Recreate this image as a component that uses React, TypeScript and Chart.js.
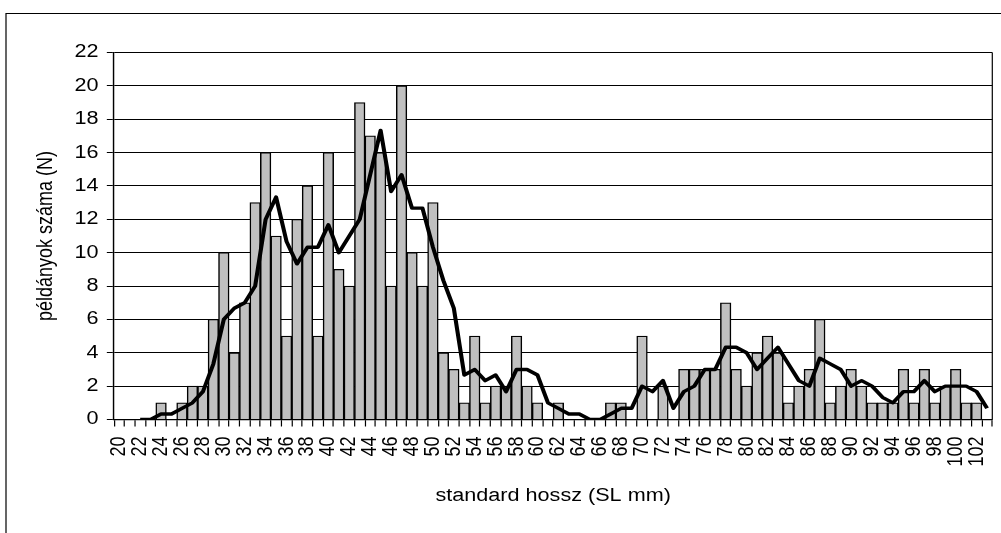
import React, { useEffect, useRef } from 'react';
import { Chart, registerables } from 'chart.js';

Chart.register(...registerables);

// Length classes (standard length, mm)
const categories: string[] = [
  '20', '21', '22', '23', '24', '25', '26', '27', '28', '29',
  '30', '31', '32', '33', '34', '35', '36', '37', '38', '39',
  '40', '41', '42', '43', '44', '45', '46', '47', '48', '49',
  '50', '51', '52', '53', '54', '55', '56', '57', '58', '59',
  '60', '61', '62', '63', '64', '65', '66', '67', '68', '69',
  '70', '71', '72', '73', '74', '75', '76', '77', '78', '79',
  '80', '81', '82', '83', '84', '85', '86', '87', '88', '89',
  '90', '91', '92', '93', '94', '95', '96', '97', '98', '99',
  '100', '101', '102', '103',
];

// Number of specimens per length class
const counts: number[] = [
  0, 0, 0, 0, 1, 0, 1, 2, 2, 6,
  10, 4, 7, 13, 16, 11, 5, 12, 14, 5,
  16, 9, 8, 19, 17, 16, 8, 20, 10, 8,
  13, 4, 3, 1, 5, 1, 2, 2, 5, 2,
  1, 0, 1, 0, 0, 0, 0, 1, 1, 0,
  5, 0, 2, 0, 3, 3, 3, 3, 7, 3,
  2, 4, 5, 4, 1, 2, 3, 6, 1, 2,
  3, 2, 1, 1, 1, 3, 1, 3, 1, 2,
  3, 1, 1, 0,
];

// Moving-average trend line (starts at class 22)
const movingAverage: (number | null)[] = [
  null, null, 0, 0, 0.33, 0.33, 0.67, 1, 1.67, 3.33,
  6, 6.67, 7, 8, 12, 13.33, 10.67, 9.33, 10.33, 10.33,
  11.67, 10, 11, 12, 14.67, 17.33, 13.67, 14.67, 12.67, 12.67,
  10.33, 8.33, 6.67, 2.67, 3, 2.33, 2.67, 1.67, 3, 3,
  2.67, 1, 0.67, 0.33, 0.33, 0, 0, 0.33, 0.67, 0.67,
  2, 1.67, 2.33, 0.67, 1.67, 2, 3, 3, 4.33, 4.33,
  4, 3, 3.67, 4.33, 3.33, 2.33, 2, 3.67, 3.33, 3,
  2, 2.33, 2, 1.33, 1, 1.67, 1.67, 2.33, 1.67, 2,
  2, 2, 1.67, 0.67,
];

const yMin = 0;
const yMax = 22;
const yStep = 2;
const xTitle = 'standard hossz (SL mm)';
const yTitle = 'példányok száma (N)';

const FULL_W = 1001;
const H = 533;
const INNER_W = 834; // drawn narrower, then stretched horizontally like the original picture
const FONT = '"Liberation Sans", Arial, sans-serif';

const framePlugin = {
  id: 'frame',
  beforeDraw(chart: any) {
    const { ctx } = chart;
    ctx.save();
    ctx.fillStyle = '#ffffff';
    ctx.fillRect(0, 0, chart.width, chart.height);
    ctx.strokeStyle = '#000000';
    ctx.lineWidth = 1;
    ctx.strokeRect(5, 13.5, 2000, 2000);
    ctx.restore();
  },
  afterDraw(chart: any) {
    const { ctx, chartArea } = chart;
    ctx.save();
    ctx.strokeStyle = '#000000';
    ctx.lineWidth = 1;
    ctx.beginPath();
    ctx.moveTo(chartArea.right, chartArea.top);
    ctx.lineTo(chartArea.right, chartArea.bottom);
    ctx.stroke();
    ctx.restore();
  },
};

export default function App() {
  const canvasRef = useRef<HTMLCanvasElement | null>(null);

  useEffect(() => {
    const canvas = canvasRef.current;
    if (!canvas) return;
    canvas.width = INNER_W;
    canvas.height = H;

    const chart = new Chart(canvas, {
      type: 'bar',
      data: {
        labels: categories,
        datasets: [
          {
            type: 'line',
            label: 'mozgóátlag',
            data: movingAverage,
            borderColor: '#000000',
            borderWidth: 3.4,
            pointRadius: 0,
            tension: 0,
            fill: false,
            borderJoinStyle: 'round',
            order: 0,
          } as any,
          {
            type: 'bar',
            label: 'N',
            data: counts,
            backgroundColor: '#C0C0C0',
            borderColor: '#000000',
            borderWidth: 1.25,
            barPercentage: 1,
            categoryPercentage: 1,
            order: 1,
          } as any,
        ],
      },
      options: {
        responsive: false,
        animation: false,
        events: [],
        layout: { padding: { left: 0, right: 7.25, top: 52.5, bottom: 0 } },
        plugins: {
          legend: { display: false },
          tooltip: { enabled: false },
          title: { display: false },
        },
        scales: {
          x: {
            type: 'category',
            offset: true,
            afterFit: (scale: any) => {
              scale.height = 113.5;
              scale.paddingLeft = 0;
              scale.paddingRight = 0;
            },
            grid: {
              display: true,
              offset: true,
              drawOnChartArea: false,
              drawTicks: true,
              tickLength: 7,
              color: '#000000',
              lineWidth: 1,
            },
            border: { display: true, color: '#000000', width: 1.2 },
            ticks: {
              autoSkip: false,
              minRotation: 90,
              maxRotation: 90,
              padding: 10,
              color: '#000000',
              font: { family: FONT, size: 18 },
              callback: (_v: any, index: number) => (index % 2 === 0 ? categories[index] : ''),
            },
            title: {
              display: true,
              text: xTitle,
              color: '#000000',
              font: { family: FONT, size: 18 },
              padding: { top: 0, bottom: 26 },
            },
          },
          y: {
            min: yMin,
            max: yMax,
            afterFit: (scale: any) => {
              scale.width = 95;
            },
            grid: {
              display: true,
              drawTicks: true,
              tickLength: 6,
              color: '#000000',
              lineWidth: 1,
            },
            border: { display: true, color: '#000000', width: 1.2 },
            ticks: {
              stepSize: yStep,
              padding: 7,
              color: '#000000',
              font: { family: FONT, size: 18 },
            },
            title: {
              display: true,
              text: yTitle,
              color: '#000000',
              font: { family: FONT, size: 18 },
              padding: { top: 27.5, bottom: 0 },
            },
          },
        },
      },
      plugins: [framePlugin],
    });

    // Stretch horizontally to the full width (the source picture is widened)
    canvas.width = FULL_W;
    canvas.height = H;
    const ctx = canvas.getContext('2d');
    if (ctx) {
      ctx.setTransform(FULL_W / INNER_W, 0, 0, 1, 0, 0);
      chart.draw();
    }

    return () => {
      chart.destroy();
    };
  }, []);

  return (
    <div style={{ position: 'absolute', left: 0, top: 0, width: FULL_W, height: H, background: '#fff' }}>
      <canvas
        ref={canvasRef}
        width={INNER_W}
        height={H}
        style={{ display: 'block', width: FULL_W, height: H }}
      />
    </div>
  );
}
